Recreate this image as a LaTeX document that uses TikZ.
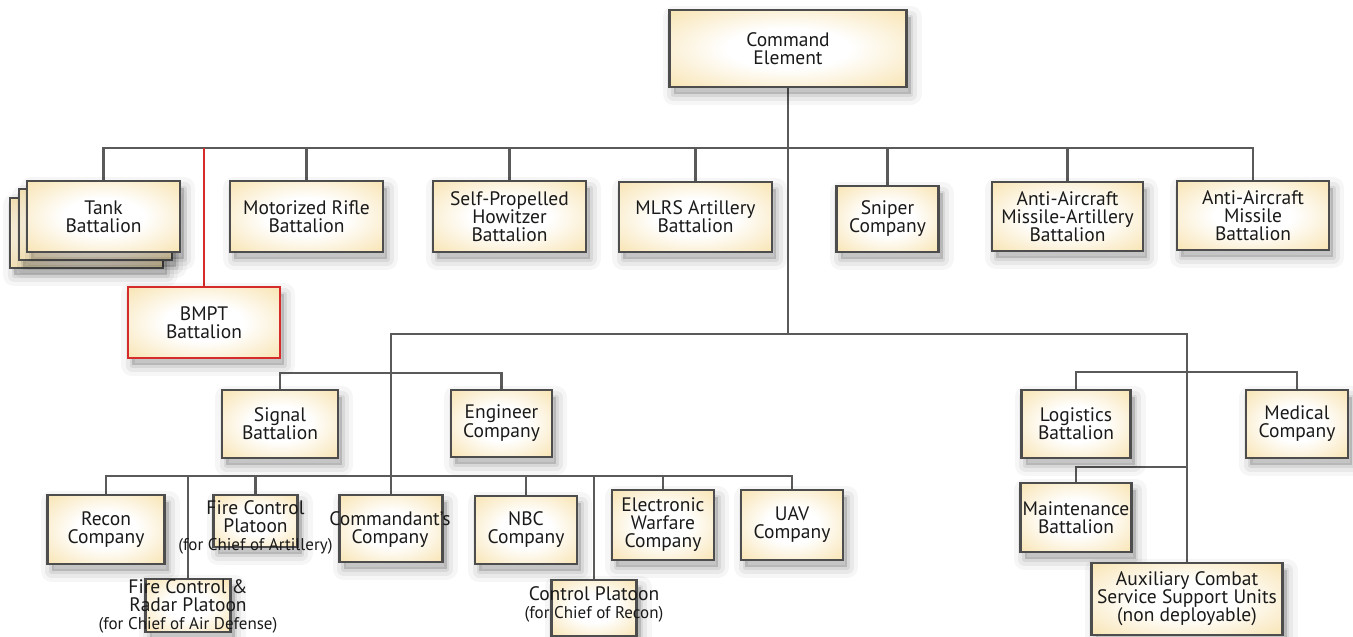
\documentclass[tikz,border=0pt]{standalone}
\usepackage{fontspec}
\setmainfont{PT Sans}
\usetikzlibrary{shadows}
\definecolor{boxy}{HTML}{F7DFA4}
\definecolor{edge}{HTML}{4D4D4D}
\definecolor{linec}{HTML}{5A5A5A}
\definecolor{redc}{HTML}{D62B2B}
\definecolor{txt}{HTML}{1A1A1A}
\pgfdeclareradialshading{boxshade}{\pgfpoint{0bp}{0bp}}{color(0bp)=(white); color(13bp)=(white); color(40bp)=(boxy); color(50bp)=(boxy)}
\pgfdeclarelayer{background}
\pgfsetlayers{background,main}
\begin{document}
\begin{tikzpicture}[x=1pt,y=-1pt,
  softshadow/.style={
    general shadow={draw=black, fill=black, line width=22pt, line join=round, opacity=0.035, shadow xshift=4pt, shadow yshift=-7pt},
    general shadow={draw=black, fill=black, line width=13pt, line join=round, opacity=0.05, shadow xshift=4pt, shadow yshift=-7pt},
    general shadow={draw=black, fill=black, line width=5pt, line join=round, opacity=0.07, shadow xshift=4pt, shadow yshift=-7pt}},
  unit/.style={softshadow, draw=edge, line width=2.4pt, shading=boxshade, inner sep=0pt, align=center, text=txt,
    font=\fontsize{19.5}{18}\selectfont},
  lbl/.style={inner sep=0pt, align=center, text=txt, font=\fontsize{19.5}{18}\selectfont},
  conn/.style={draw=linec, line width=2.2pt, line cap=rect},
  redconn/.style={draw=redc, line width=2.4pt}]
\useasboundingbox (0,0) rectangle (1353,637);
\begin{pgfonlayer}{background}
\fill[white] (0,0) rectangle (1353,637);
\end{pgfonlayer}

% top
\node[unit, minimum width=237pt, minimum height=77pt] (cmd) at (788,48.5) {Command\\Element};
\node[unit, minimum width=153pt, minimum height=70pt] (tank3) at (86.5,233) {};
\node[unit, minimum width=153pt, minimum height=71pt] (tank2) at (95.5,224.5) {};
\node[unit, minimum width=153pt, minimum height=71pt] (tank) at (103.5,216.5) {Tank\\Battalion};
\node[unit, draw=redc, minimum width=152pt, minimum height=71pt] (bmpt) at (204,322.5) {BMPT\\Battalion};
\node[unit, minimum width=153pt, minimum height=71pt] (motor) at (306.5,216.5) {Motorized Rifle\\Battalion};
\node[unit, minimum width=153pt, minimum height=71pt] (sph) at (509.5,216.5) {Self-Propelled\\Howitzer\\Battalion};
\node[unit, minimum width=153pt, minimum height=70pt] (mlrs) at (695.5,217) {MLRS Artillery\\Battalion};
\node[unit, minimum width=102pt, minimum height=66pt] (sniper) at (887.5,219) {Sniper\\Company};
\node[unit, minimum width=151pt, minimum height=69pt] (aama) at (1067.5,216.5) {Anti-Aircraft\\Missile-Artillery\\Battalion};
\node[unit, minimum width=152pt, minimum height=69pt] (aam) at (1253,215.5) {Anti-Aircraft\\Missile\\Battalion};

% middle
\node[unit, minimum width=116pt, minimum height=68pt] (sig) at (280,424) {Signal\\Battalion};
\node[unit, minimum width=101pt, minimum height=67pt] (eng) at (501.5,423.5) {Engineer\\Company};
\node[unit, minimum width=109pt, minimum height=68pt] (log) at (1076,424) {Logistics\\Battalion};
\node[unit, minimum width=102pt, minimum height=68pt] (med) at (1297,424) {Medical\\Company};
\node[unit, minimum width=111pt, minimum height=69pt] (maint) at (1076,517.5) {Maintenance\\Battalion};
\node[unit, minimum width=191pt, minimum height=72pt] (aux) at (1187,599) {Auxiliary Combat\\Service Support Units\\(non deployable)};

% bottom
\node[unit, minimum width=117pt, minimum height=69pt] (recon) at (106,529.5) {Recon\\Company};
\node[unit, minimum width=84pt, minimum height=52pt] (fcp) at (255.5,521) {};
\node[lbl] (fcpt) at (255.5,527) {Fire Control\\Platoon\\{\fontsize{17}{19}\selectfont(for Chief of Artillery)}};
\node[unit, minimum width=103pt, minimum height=67pt] (comm) at (391,528.5) {};
\node[lbl] (commt) at (390,530) {Commandant’s\\Company};
\node[unit, minimum width=102pt, minimum height=68pt] (nbc) at (526,530) {NBC\\Company};
\node[unit, minimum width=102pt, minimum height=70pt] (ew) at (663,525) {Electronic\\Warfare\\Company};
\node[unit, minimum width=102pt, minimum height=70pt] (uav) at (792,525) {UAV\\Company};
\node[unit, minimum width=85pt, minimum height=53pt] (fcr) at (188,605.5) {};
\node[lbl] (fcrt) at (188,606) {Fire Control \&\\Radar Platoon\\{\fontsize{17}{19}\selectfont(for Chief of Air Defense)}};
\node[unit, minimum width=85pt, minimum height=56pt] (cp) at (594,608) {};
\node[lbl] (cpt) at (594,604) {Control Platoon\\{\fontsize{17}{19}\selectfont(for Chief of Recon)}};

\coordinate (tb) at (788,148);
\coordinate (mc) at (788,334);
\coordinate (seb) at (391,373);
\coordinate (bb) at (391,476);
\coordinate (lmb) at (1187,372);
\coordinate (mtb) at (1187,467);

\begin{pgfonlayer}{background}
\draw[conn] (tank.north) |- (tb) -| (aam.north);
\foreach \n in {motor,sph,mlrs,sniper,aama} \draw[conn] (\n.north) -- (\n.north |- tb);
\draw[conn] (cmd.south) -- (mc);
\draw[conn] (comm.north) |- (mc) -| (aux.north);
\draw[conn] (sig.north) |- (seb) -| (eng.north);
\draw[conn] (recon.north) |- (bb) -| (uav.north);
\foreach \n in {fcr,fcp,nbc,cp,ew} \draw[conn] (\n.north) -- (\n.north |- bb);
\draw[conn] (log.north) |- (lmb) -| (med.north);
\draw[conn] (maint.north) |- (mtb);
\draw[redconn] (bmpt.north) -- (bmpt.north |- tb);
\end{pgfonlayer}
\end{tikzpicture}
\end{document}
